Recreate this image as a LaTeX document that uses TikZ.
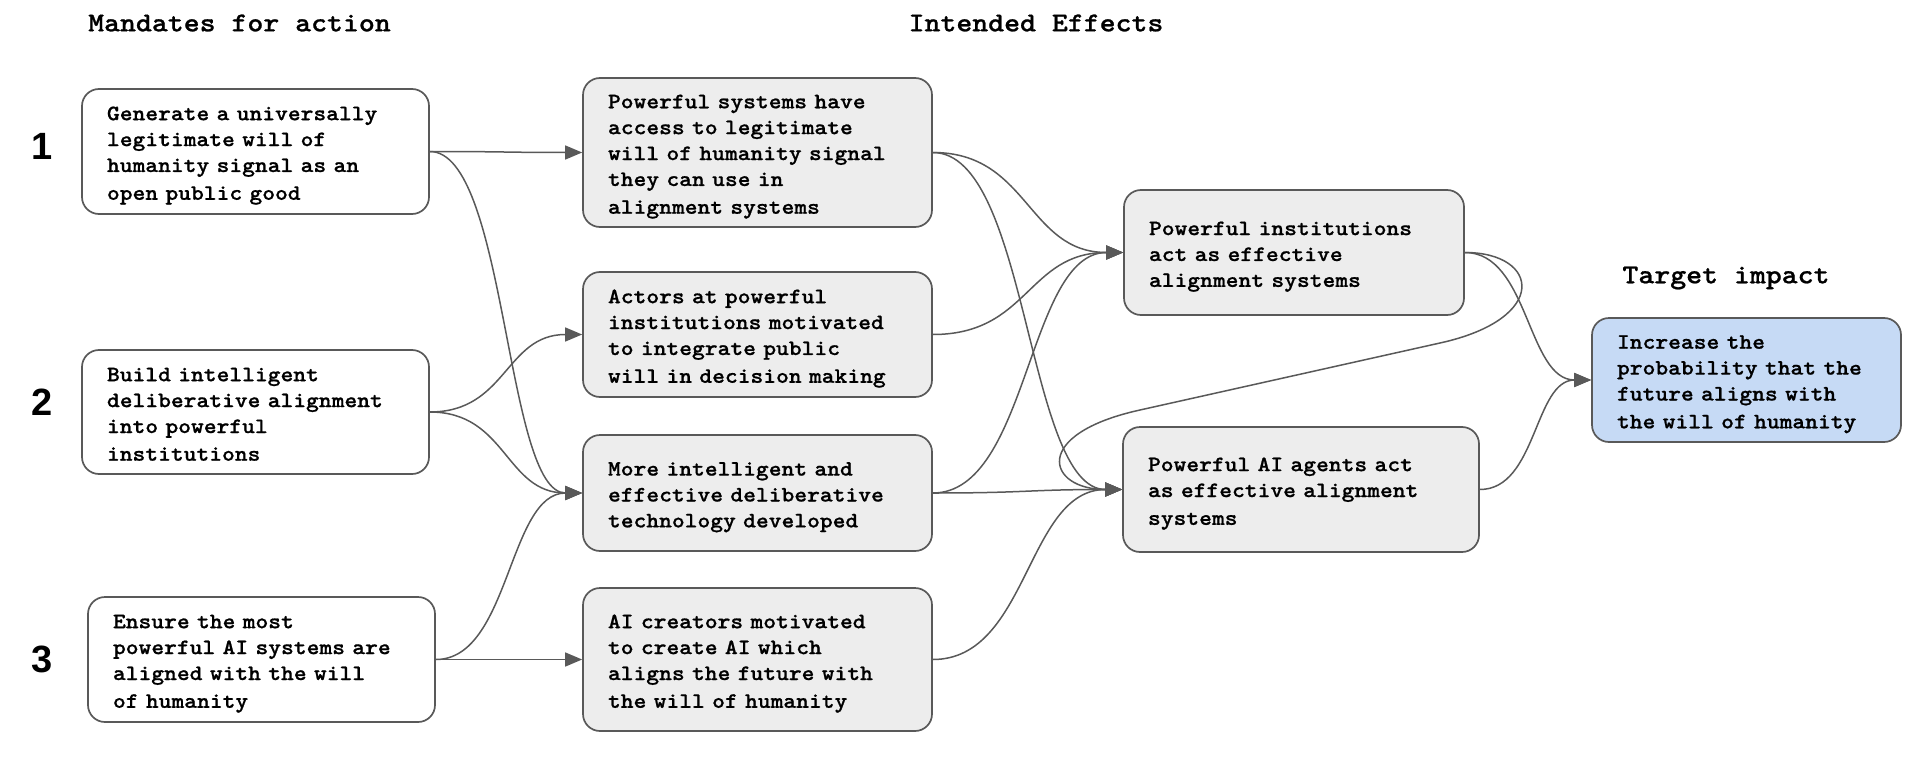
\documentclass[tikz,border=0pt]{standalone}
\usepackage{fontspec}
\newfontfamily\numfont{Liberation Sans}
\newfontfamily\cour[Extension=.otf, FakeStretch=1.107, FakeBold=0.8]{lmmonolt10-bold}
\usetikzlibrary{arrows.meta}
\definecolor{boxgray}{HTML}{EDEDED}
\definecolor{boxblue}{HTML}{C6DAF5}
\definecolor{linegray}{HTML}{595959}
\newcommand\bxstrut{\rule[-4pt]{0pt}{25.9pt}}
\tikzset{
  box/.style={draw=linegray, line width=1.7pt, rounded corners=17pt,
    align=left, inner xsep=25pt, inner ysep=0pt, text=black,
    font=\cour\fontsize{22}{25.9}\selectfont,
    execute at begin node=\bxstrut, execute at end node=\bxstrut},
  mandate/.style={box, fill=white},
  effect/.style={box, fill=boxgray},
  target/.style={box, fill=boxblue},
  heading/.style={font=\cour\fontsize{27.4}{30}\selectfont, inner sep=0pt},
  num/.style={font=\numfont\bfseries\fontsize{38}{40}\selectfont, inner sep=0pt},
  conn/.style={draw=linegray, line width=1.5pt, -{Triangle[length=17pt,width=14pt]}},
}
\begin{document}
\begin{tikzpicture}[x=1pt, y=-1pt]
\useasboundingbox (0,0) rectangle (1910,765);

% headings
\node[heading] (h1) at (239.5,23) {Mandates for action};
\node[heading] (h2) at (1036,23) {Intended Effects};
\node[heading] (h3) at (1726,278) {Target impact};

% numbers
\node[num] (n1) at (42,146) {1};
\node[num] (n2) at (42,402) {2};
\node[num] (n3) at (42,659) {3};

% mandates
\node[mandate, minimum width=347pt, minimum height=125pt, text width=297pt] (m1) at (255.5,151.5)
  {Generate a universally\\legitimate will of\\humanity signal as an\\open public good};
\node[mandate, minimum width=347pt, minimum height=124pt, text width=297pt] (m2) at (255.5,412)
  {Build intelligent\\deliberative alignment\\into powerful\\institutions};
\node[mandate, minimum width=347pt, minimum height=125pt, text width=297pt] (m3) at (261.5,659.5)
  {Ensure the most\\powerful AI systems are\\aligned with the will\\of humanity};

% intended effects
\node[effect, minimum width=349pt, minimum height=149pt, text width=299pt] (e1) at (757.5,152.5)
  {Powerful systems have\\access to legitimate\\will of humanity signal\\they can use in\\alignment systems};
\node[effect, minimum width=349pt, minimum height=125pt, text width=299pt] (e2) at (757.5,334.5)
  {Actors at powerful\\institutions motivated\\to integrate public\\will in decision making};
\node[effect, minimum width=349pt, minimum height=116pt, text width=299pt] (e3) at (757.5,493)
  {More intelligent and\\effective deliberative\\technology developed};
\node[effect, minimum width=349pt, minimum height=143pt, text width=299pt] (e4) at (757.5,659.5)
  {AI creators motivated\\to create AI which\\aligns the future with\\the will of humanity};

\node[effect, minimum width=340pt, minimum height=125pt, text width=290pt] (i1) at (1294,252.5)
  {Powerful institutions\\act as effective\\alignment systems};
\node[effect, minimum width=356pt, minimum height=125pt, text width=306pt] (i2) at (1301,489.5)
  {Powerful AI agents act\\as effective alignment\\systems};

% target
\node[target, minimum width=309pt, minimum height=124pt, text width=259pt] (t) at (1746.5,380)
  {Increase the\\probability that the\\future aligns with\\the will of humanity};

% waypoints of the looping connector
\coordinate (loopa) at (1440,343);
\coordinate (loopb) at (1140,410);

% connectors
\draw[conn] (m1.east) .. controls +(77,0) and +(-77,0) .. (e1.west);
\draw[conn] (m1.east) .. controls +(77,0) and +(-77,0) .. (e3.west);
\draw[conn] (m2.east) .. controls +(77,0) and +(-77,0) .. (e2.west);
\draw[conn] (m2.east) .. controls +(77,0) and +(-77,0) .. (e3.west);
\draw[conn] (m3.east) .. controls +(74,0) and +(-74,0) .. (e3.west);
\draw[conn] (m3.east) .. controls +(74,0) and +(-74,0) .. (e4.west);

\draw[conn] (e1.east) .. controls +(96,0) and +(-96,0) .. (i1.west);
\draw[conn] (e1.east) .. controls +(96,0) and +(-96,0) .. (i2.west);
\draw[conn] (e2.east) .. controls +(96,0) and +(-96,0) .. (i1.west);
\draw[conn] (e3.east) .. controls +(96,0) and +(-96,0) .. (i1.west);
\draw[conn] (e3.east) .. controls +(96,0) and +(-96,0) .. (i2.west);
\draw[conn] (e4.east) .. controls +(96,0) and +(-96,0) .. (i2.west);

\draw[conn] (i1.east) .. controls +(75,0) and +(110,-24.2) .. (loopa)
  -- (loopb) .. controls +(-110,24.2) and +(-75,0) .. (i2.west);
\draw[conn] (i1.east) .. controls +(64,0) and +(-64,0) .. (t.west);
\draw[conn] (i2.east) .. controls +(57,0) and +(-57,0) .. (t.west);
\end{tikzpicture}
\end{document}
